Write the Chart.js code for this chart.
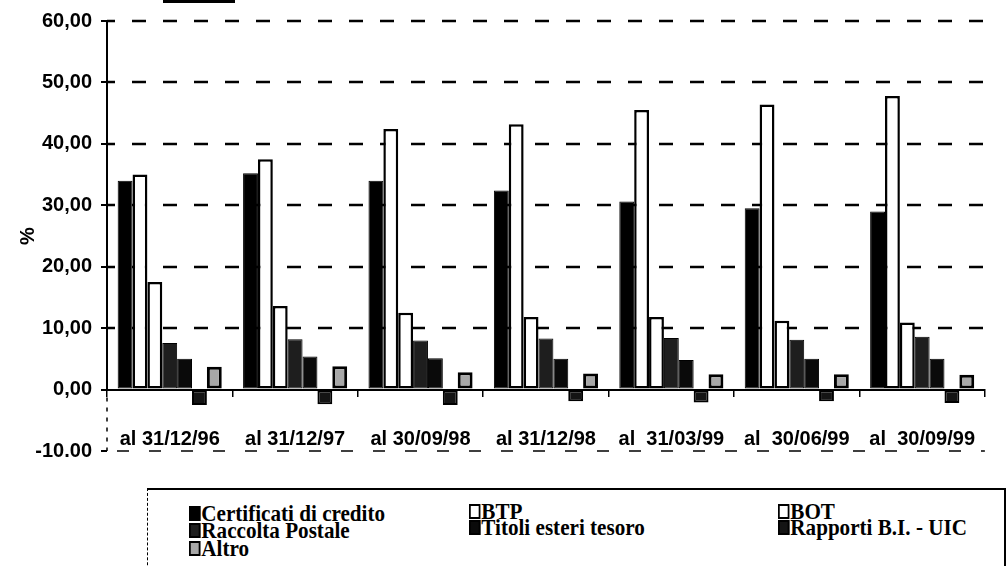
<!DOCTYPE html>
<html>
<head>
<meta charset="utf-8">
<script src="https://cdn.jsdelivr.net/npm/chart.js@4.4.1/dist/chart.umd.min.js"></script>
<style>
  html, body { margin: 0; padding: 0; background: #fff; }
  body { width: 1007px; height: 566px; position: relative; overflow: hidden; }
  #wrap { position: absolute; left: 0; top: 0; width: 1007px; height: 472px; }
  #topmark { position: absolute; left: 163px; top: 0; width: 72px; height: 3px; background: #000; }
  #legend {
    position: absolute; left: 147px; top: 488px; width: 856px; height: 100px;
    border-top: 2px solid #000; border-right: 2px solid #000; border-left: 1px dashed #000;
    font: bold 24px "Liberation Serif", "Times New Roman", serif; color: #000;
  }
  .item { position: absolute; line-height: 18px; white-space: nowrap; transform: scaleX(0.88); transform-origin: left center; }
  .sw { display: inline-block; box-sizing: border-box; width: 13px; height: 15px; border: 2px solid #000; margin-right: 1px; vertical-align: 0px; }
</style>
</head>
<body>
<div id="topmark"></div>
<div id="wrap"><canvas id="chart" width="1007" height="472"></canvas></div>
<div id="legend"></div>
<script>
const categories = ['al 31/12/96', 'al 31/12/97', 'al 30/09/98', 'al 31/12/98', 'al  31/03/99', 'al  30/06/99', 'al  30/09/99'];

const certificati = [34.0, 35.2, 34.0, 32.4, 30.6, 29.5, 29.0];
const btp = [35.0, 37.5, 42.4, 43.2, 45.5, 46.4, 47.8];
const bot = [17.5, 13.6, 12.5, 11.8, 11.8, 11.2, 10.9];
const raccoltaPostale = [7.6, 8.2, 8.0, 8.3, 8.4, 8.1, 8.6];
const titoliEsteri = [5.0, 5.4, 5.1, 5.0, 4.8, 5.0, 5.0];
const rapportiBI = [-2.5, -2.4, -2.5, -1.9, -2.1, -1.9, -2.2];
const altro = [3.7, 3.8, 2.8, 2.6, 2.5, 2.5, 2.4];

const seriesNames = ['Certificati di credito', 'BTP', 'BOT', 'Raccolta Postale', 'Titoli esteri tesoro', 'Rapporti B.I. - UIC', 'Altro'];
const yTickLabels = ['-10.00', '0,00', '10,00', '20,00', '30,00', '40,00', '50,00', '60,00'];

const fills = ['#000000', '#ffffff', '#ffffff', '#1e1e1e', '#0a0a0a', '#141414', '#a8a8a8'];
const borders = [1, 2.5, 2.5, 1, 1, 2, 3];

const values = [certificati, btp, bot, raccoltaPostale, titoliEsteri, rapportiBI, altro];

const sansBold = (size) => ({ family: '"Liberation Sans", Arial, sans-serif', size: size, weight: 'bold' });

// dashes drawn as separate short strokes
function dashes(ctx, from, to, fixed, dash, gap, start, vertical) {
  ctx.beginPath();
  for (let p = from + start; p < to; p += dash + gap) {
    const a = Math.max(p, from), b = Math.min(p + dash, to);
    if (b <= a) continue;
    if (vertical) { ctx.moveTo(fixed, a); ctx.lineTo(fixed, b); }
    else { ctx.moveTo(a, fixed); ctx.lineTo(b, fixed); }
  }
  ctx.stroke();
}

// dashed horizontal grid and the left axis (solid above zero, dotted below)
const dashedGrid = {
  id: 'dashedGrid',
  beforeDatasetsDraw(chart) {
    const { ctx, chartArea, scales: { y } } = chart;
    ctx.save();
    ctx.strokeStyle = '#000';
    ctx.lineCap = 'butt';
    y.ticks.forEach((t) => {
      if (t.value === 0) return;
      const py = Math.round(y.getPixelForValue(t.value));
      if (t.value < 0) {
        ctx.lineWidth = 1.5;
        dashes(ctx, chartArea.left, chartArea.right, py, 12, 20, 10, false);
      } else {
        ctx.lineWidth = 2.5;
        dashes(ctx, chartArea.left, chartArea.right, py, 14, 17, -6, false);
      }
    });
    const zero = y.getPixelForValue(0);
    ctx.lineWidth = 2;
    ctx.beginPath();
    ctx.moveTo(chartArea.left, chartArea.top - 1);
    ctx.lineTo(chartArea.left, zero);
    ctx.stroke();
    ctx.lineWidth = 1.5;
    dashes(ctx, zero, chartArea.bottom, chartArea.left, 4, 6, 8, true);
    ctx.restore();
  }
};

const chart = new Chart(document.getElementById('chart'), {
  type: 'bar',
  data: {
    labels: categories,
    datasets: values.map((v, i) => ({
      label: seriesNames[i],
      data: v,
      backgroundColor: fills[i],
      borderColor: '#000',
      borderWidth: borders[i],
      borderSkipped: false,
      barPercentage: 1,
      categoryPercentage: 0.83
    }))
  },
  plugins: [dashedGrid],
  options: {
    responsive: false,
    animation: false,
    devicePixelRatio: 1,
    layout: { padding: { top: 16, right: 0, bottom: 12, left: 0 } },
    plugins: {
      legend: { display: false },
      tooltip: { enabled: false }
    },
    scales: {
      x: {
        position: { y: 0 },
        grid: { drawOnChartArea: false, drawTicks: true, tickLength: 6, color: '#000', lineWidth: 1.5, offset: true },
        border: { display: true, color: '#000', width: 2 },
        ticks: {
          color: '#000',
          font: sansBold(20),
          padding: 32,
          maxRotation: 0,
          autoSkip: false
        }
      },
      y: {
        min: -10,
        max: 60,
        afterFit: (scale) => { scale.width = 107; },
        ticks: {
          stepSize: 10,
          color: '#000',
          font: sansBold(20),
          padding: 9,
          callback: (value) => yTickLabels[(value + 10) / 10]
        },
        grid: { drawOnChartArea: false, color: '#000', lineWidth: 2, tickLength: 6, tickColor: '#000', tickWidth: 2 },
        border: { display: false },
        title: { display: true, text: '%', color: '#000', font: sansBold(20), padding: { top: 16, bottom: 0 } }
      }
    }
  }
});

// legend, three columns filled row by row in series order
const legend = document.getElementById('legend');
const colLeft = [41, 321, 630];
const rowTop = [[14, 31, 49], [12, 28], [12, 28]];
chart.data.datasets.forEach((ds, i) => {
  const col = i % 3, row = Math.floor(i / 3);
  const el = document.createElement('div');
  el.className = 'item';
  el.style.left = colLeft[col] + 'px';
  el.style.top = rowTop[col][row] + 'px';
  const sw = document.createElement('span');
  sw.className = 'sw';
  sw.style.background = ds.backgroundColor;
  el.appendChild(sw);
  el.appendChild(document.createTextNode(ds.label));
  legend.appendChild(el);
});
</script>
</body>
</html>
